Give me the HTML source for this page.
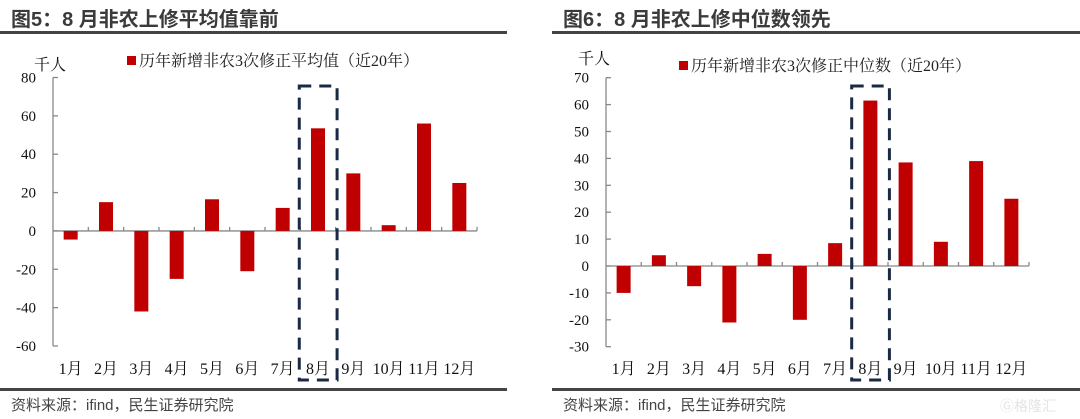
<!DOCTYPE html>
<html><head><meta charset="utf-8">
<style>
html,body{margin:0;padding:0;background:#fff;}
body{width:1080px;height:419px;overflow:hidden;position:relative;font-family:"Liberation Serif","Noto Serif CJK SC",serif;}
.title{position:absolute;top:3px;font-family:"Liberation Sans","Noto Sans CJK SC",sans-serif;font-weight:bold;font-size:20px;color:#3a3a3a;}
.src{position:absolute;top:394px;font-family:"Liberation Sans","Noto Sans CJK SC",sans-serif;font-size:15px;color:#444;}
.hr{position:absolute;height:3px;background:#444;}
</style></head>
<body>
<div class="title" style="left:11px;">图5：8 月非农上修平均值靠前</div>
<div class="hr" style="left:0;width:507px;top:31px;"></div>
<div class="hr" style="left:0;width:507px;top:388px;"></div>
<div class="src" style="left:11px;">资料来源：ifind，民生证券研究院</div>

<div class="title" style="left:563px;">图6：8 月非农上修中位数领先</div>
<div class="hr" style="left:552px;width:528px;top:31px;"></div>
<div class="hr" style="left:552px;width:528px;top:388px;"></div>
<div class="src" style="left:563px;">资料来源：ifind，民生证券研究院</div>
<div style="position:absolute;left:1000px;top:396px;font-family:'Noto Sans CJK SC',sans-serif;font-size:14px;color:#e4e4e4;">Ⓖ格隆汇</div>

<svg id="svg" width="1080" height="419" style="position:absolute;left:0;top:0"></svg>

<script>
const categories = ["1月","2月","3月","4月","5月","6月","7月","8月","9月","10月","11月","12月"];
const meanValues = [-4.5, 15, -42, -25, 16.5, -21, 12, 53.5, 30, 3, 56, 25];
const medianValues = [-10, 4, -7.5, -21, 4.5, -20, 8.5, 61.5, 38.5, 9, 39, 25];
const meanTicks = [80, 60, 40, 20, 0, -20, -40, -60];
const medianTicks = [70, 60, 50, 40, 30, 20, 10, 0, -10, -20, -30];
const highlightIndex = 7;

const NS = "http://www.w3.org/2000/svg";
const svg = document.getElementById("svg");
function mk(tag, attrs, parent) {
  const e = document.createElementNS(NS, tag);
  for (const k in attrs) e.setAttribute(k, attrs[k]);
  (parent || svg).appendChild(e);
  return e;
}

function drawChart(cfg) {
  const g = mk("g", {});
  
  
  const x0 = cfg.x0, x1 = cfg.x1;
  const yScale = v => cfg.yTop + (cfg.max - v) / (cfg.max - cfg.min) * (cfg.yBot - cfg.yTop);
  const n = cfg.cats.length;
  const cw = (x1 - x0) / n;
  const xCenter = i => x0 + cw * (i + 0.5);
  const zero = yScale(0);

  const ya = mk("line", {x1:x0, y1:cfg.yTop, x2:x0, y2:cfg.yBot, stroke:"#888", "stroke-width":1.3}, g);
  
  
  cfg.ticks.forEach(t => {
    const y = yScale(t);
    mk("line", {x1:x0, y1:y, x2:x0+5, y2:y, stroke:"#888", "stroke-width":1.3}, g);
    const tx = mk("text", {x:x0-17, y:y+5, "text-anchor":"end", "font-size":15, fill:"#111"}, g);
    tx.textContent = t;
    
    
  });
  const xa = mk("line", {x1:x0, y1:zero, x2:x1, y2:zero, stroke:"#888", "stroke-width":1.3}, g);
  
  
  for (let i = 1; i <= n; i++) {
    const x = x0 + cw * i;
    mk("line", {x1:x, y1:zero-4, x2:x, y2:zero, stroke:"#888", "stroke-width":1.3}, g);
  }
  cfg.values.forEach((v, i) => {
    const y = yScale(v);
    const b = mk("rect", {x:xCenter(i)-7, y:Math.min(y, zero), width:14, height:Math.abs(zero-y), fill:"#c00000"}, g);
    
    
  });
  cfg.cats.forEach((c, i) => {
    const t = mk("text", {x:xCenter(i), y:374, "text-anchor":"middle", "font-size":16, fill:"#111"}, g);
    t.textContent = c;
    
    
  });
  const u = mk("text", {x:cfg.unitX, y:cfg.unitY, "font-size":16, fill:"#111"}, g);
  u.textContent = "千人";
  
  
  const lr = mk("rect", {x:cfg.legX, y:cfg.legY-10, width:9, height:9, fill:"#c00000"}, g);
  
  
  const lt = mk("text", {x:cfg.legX+12, y:cfg.legY, "font-size":16, fill:"#222"}, g);
  lt.textContent = cfg.legend;
  
  
  const hx = xCenter(highlightIndex);
  const box = mk("rect", {x:hx-cw*0.53, y:86, width:cw*1.07, height:294, fill:"none", stroke:"#1b2a44", "stroke-width":3, "stroke-dasharray":"12,8"}, g);
  
  
}

drawChart({name:"chart5-mean", x0:53, x1:477, yTop:77.5, yBot:346, max:80, min:-60,
  ticks:meanTicks, values:meanValues, cats:categories, unitX:34, unitY:70,
  legX:127, legY:66, legend:"历年新增非农3次修正平均值（近20年）"});
drawChart({name:"chart6-median", x0:606, x1:1029, yTop:77.7, yBot:346.7, max:70, min:-30,
  ticks:medianTicks, values:medianValues, cats:categories, unitX:578, unitY:64,
  legX:679, legY:71, legend:"历年新增非农3次修正中位数（近20年）"});
</script>
</body></html>
